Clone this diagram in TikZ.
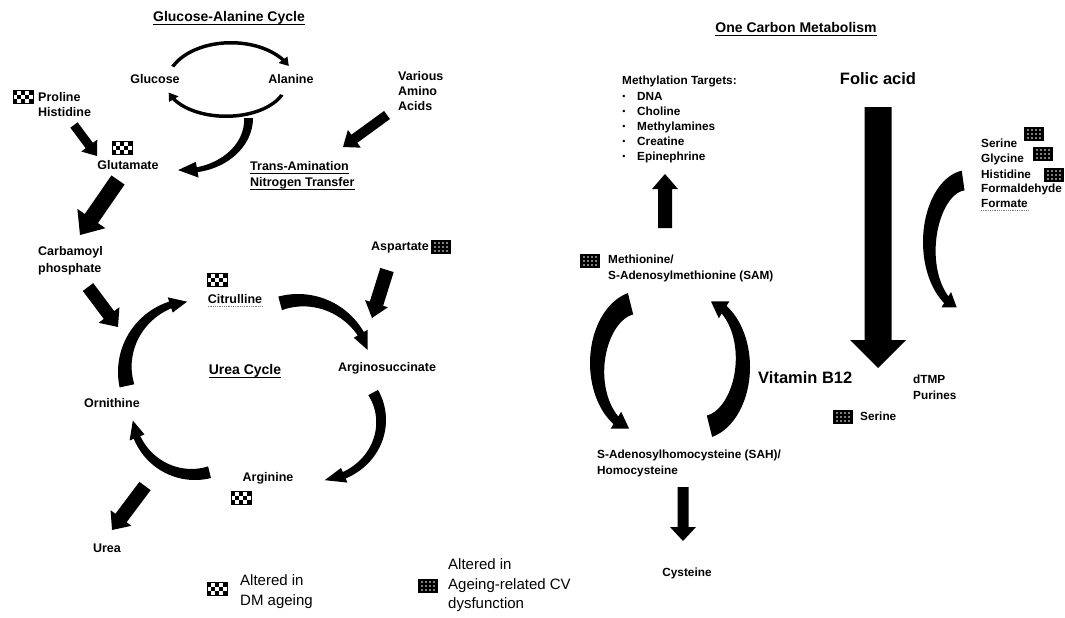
\documentclass[tikz,border=0pt]{standalone}
\usepackage{fontspec}
\setmainfont{Liberation Sans}
\usetikzlibrary{calc}
\newcommand\fsS{\fontsize{12.5}{14}\selectfont\bfseries}
\newcommand\fsR{\fontsize{11.8}{13}\selectfont\bfseries}
\newcommand\fsT{\fontsize{14}{16}\selectfont\bfseries}
\newcommand\fsB{\fontsize{16.5}{19}\selectfont\bfseries}
\newcommand\fsL{\fontsize{15}{17}\selectfont}
\tikzset{
  lb/.style={font=\fsS, inner sep=0pt},
  rb/.style={font=\fsR, inner sep=0pt},
  tt/.style={font=\fsT, inner sep=0pt},
  bg/.style={font=\fsB, inner sep=0pt},
  lg/.style={font=\fsL, inner sep=0pt},
  ul/.style={line width=1pt},
  sp/.style={densely dotted, line width=0.8pt, gray},
  chk/.pic={
    \fill[white] (-10,-6.5) rectangle (10,6.5);
    \foreach \i/\j in {0/0,2/0,4/0,1/1,3/1,0/2,2/2,4/2}
      \fill (-10+4*\i,-6.5+4.333*\j) rectangle ++(4,4.333);
    \draw[line width=0.8pt] (-10,-6.5) rectangle (10,6.5);
  },
  drk/.pic={
    \fill (-10,-7) rectangle (10,7);
    \foreach \i in {0,...,3} \foreach \j in {0,1,2}
      \fill[white] (-6+4*\i,-4+4*\j) circle (0.9);
  }
}
% straight block arrow: start, end, half shaft, half head, head length
\newcommand\barrow[5]{%
  \coordinate (bah) at ($(#2)!#5!(#1)$);
  \fill ($(#1)!#3!90:(#2)$) -- ($(bah)!#3!-90:(#1)$) -- ($(bah)!#4!-90:(#1)$) -- (#2)
    -- ($(bah)!#4!90:(#1)$) -- ($(bah)!#3!90:(#1)$) -- ($(#1)!#3!-90:(#2)$) -- cycle;}
% curved tapered arrow: cx, cy, Rx, Ry, a0 (tail), a1 (head base), w0, w1, head half width; tip angle in \tipa
\newcommand\carrow[9]{%
  \fill plot[domain=#5:#6,samples=40,variable=\t] ({#1+(#3)*cos(\t)},{#2+(#4)*sin(\t)})
    -- ({#1+(#3-(#8)/2+(#9))*cos(#6)},{#2+(#4-(#8)/2+(#9))*sin(#6)})
    -- ({#1+(#3-(#8)/2)*cos(\tipa)},{#2+(#4-(#8)/2)*sin(\tipa)})
    -- ({#1+(#3-(#8)/2-(#9))*cos(#6)},{#2+(#4-(#8)/2-(#9))*sin(#6)})
    -- plot[domain=#6:#5,samples=40,variable=\t]
      ({#1+(#3-(#7)-((#8)-(#7))*(\t-(#5))/((#6)-(#5)))*cos(\t)},
       {#2+(#4-(#7)-((#8)-(#7))*(\t-(#5))/((#6)-(#5)))*sin(\t)})
    -- cycle;}
\newcommand\ulnode[2][ul]{\draw[#1] ($(#2.base west)+(0,2.5)$) -- ($(#2.base east)+(0,2.5)$);}
\begin{document}
\begin{tikzpicture}[x=1pt,y=-1pt]
\useasboundingbox (0,0) rectangle (1065,618);
\fill[white] (0,0) rectangle (1065,618);

% ---------- Glucose-Alanine cycle ----------
\node[tt,anchor=mid] (gac) at (229,19) {Glucose-Alanine Cycle}; \ulnode{gac}
\node[lb,anchor=mid] (glc) at (155,81) {Glucose};
\node[lb,anchor=mid] (ala) at (291,81) {Alanine};
\def\tipa{-26}\carrow{231}{84}{66}{43}{-155}{-36}{3.5}{3.5}{5.5}
\def\tipa{162}\carrow{226}{82}{62}{36}{22}{150}{3.5}{3.5}{5.5}
\def\tipa{97}\carrow{186}{118}{67}{55}{0}{80}{9}{5}{8}

\node[lb,anchor=mid west] (va1) at (398,78) {Various};
\node[lb,anchor=mid west] (va2) at (398,93) {Amino};
\node[lb,anchor=mid west] (va3) at (398,108) {Acids};
\coordinate (v0) at (387,115); \coordinate (v1) at (343,147);
\barrow{v0}{v1}{5pt}{11pt}{14pt}
\node[lb,anchor=mid west] (ta1) at (250,168) {Trans-Amination}; \ulnode{ta1}
\node[lb,anchor=mid west] (ta2) at (250,184) {Nitrogen Transfer}; \ulnode{ta2}

\pic at (23,97) {chk};
\node[lb,anchor=mid west] (pro) at (38,99) {Proline};
\node[lb,anchor=mid west] (his) at (38,114) {Histidine};
\coordinate (p0) at (74,125); \coordinate (p1) at (97,156);
\barrow{p0}{p1}{4.5pt}{10pt}{13pt}
\pic at (122,148) {chk};
\node[lb,anchor=mid] (glu) at (128,167) {Glutamate};
\coordinate (g0) at (118,180); \coordinate (g1) at (80,235);
\barrow{g0}{g1}{8pt}{17pt}{20pt}

% ---------- Urea cycle ----------
\node[lb,anchor=mid west] (cb1) at (38,253) {Carbamoyl};
\node[lb,anchor=mid west] (cb2) at (38,270) {phosphate};
\coordinate (c0) at (88,287); \coordinate (c1) at (118,327);
\barrow{c0}{c1}{6.5pt}{13pt}{15pt}
\node[lb,anchor=mid west] (asp) at (371,248) {Aspartate};
\pic at (441,247) {drk};
\coordinate (s0) at (387,270); \coordinate (s1) at (372,318);
\barrow{s0}{s1}{7pt}{12pt}{15pt}
\pic at (217,280) {chk};
\node[lb,anchor=mid] (cit) at (235,301) {Citrulline}; \ulnode[sp]{cit}
\node[tt,anchor=mid] (uc) at (245,372) {Urea Cycle}; \ulnode{uc}
\node[lb,anchor=mid] (ars) at (387,369) {Arginosuccinate};
\node[lb,anchor=mid] (orn) at (112,405) {Ornithine};
\node[lb,anchor=mid] (arg) at (268,479) {Arginine};
\pic at (241,498) {chk};
\coordinate (u0) at (145,486); \coordinate (u1) at (112,530);
\barrow{u0}{u1}{7pt}{13pt}{15pt}
\node[lb,anchor=mid] (ure) at (107,550) {Urea};
\def\tipa{266}\carrow{192}{372}{74}{74}{168}{252}{15}{7}{8}
\def\tipa{-16}\carrow{298}{370}{76}{76}{-105}{-30}{14}{7}{8}
\def\tipa{84}\carrow{318}{420}{68}{64}{-28}{66}{11}{7}{8}
\def\tipa{174}\carrow{195}{414}{66}{66}{76}{158}{12}{7}{8}

% ---------- Legend ----------
\pic at (217,589) {chk};
\node[lg,anchor=mid west] (l1a) at (240,583) {Altered in};
\node[lg,anchor=mid west] (l1b) at (240,603) {DM ageing};
\pic at (428,586) {drk};
\node[lg,anchor=mid west] (l2a) at (448,567) {Altered in};
\node[lg,anchor=mid west] (l2b) at (448,587) {Ageing-related CV};
\node[lg,anchor=mid west] (l2c) at (448,606) {dysfunction};

% ---------- One carbon metabolism ----------
\node[tt,anchor=mid] (ocm) at (796,30) {One Carbon Metabolism}; \ulnode{ocm}
\node[rb,anchor=mid west] (mt) at (622,82) {Methylation Targets:};
\foreach \n/\t/\yy in {1/DNA/97,2/Choline/112,3/Methylamines/127,4/Creatine/142,5/Epinephrine/157}{
  \node[rb,anchor=mid,font=\fontsize{9}{10}\selectfont] (bu\n) at (624,\yy) {\textbullet};
  \node[rb,anchor=mid west] (mt\n) at (637,\yy+1) {\t};
}
\coordinate (m0) at (665,228); \coordinate (m1) at (665,174);
\barrow{m0}{m1}{7pt}{13pt}{15pt}
\node[bg,anchor=mid] (fol) at (878,82) {Folic acid};
\coordinate (f0) at (878,107); \coordinate (f1) at (878,368);
\barrow{f0}{f1}{13.5pt}{28pt}{28pt}

\node[rb,anchor=mid west] (rs1) at (981,145) {Serine};
\node[rb,anchor=mid west] (rs2) at (981,160) {Glycine};
\node[rb,anchor=mid west] (rs3) at (981,176) {Histidine};
\node[rb,anchor=mid west] (rs4) at (981,190) {Formaldehyde};
\node[rb,anchor=mid west] (rs5) at (981,205) {Formate}; \ulnode[sp]{rs5}
\pic at (1034,134) {drk};
\pic at (1043,154) {drk};
\pic at (1054,175) {drk};
\def\tipa{106}\carrow{968}{242}{45}{72}{262}{122}{20}{8}{9}

\pic at (590,261) {drk};
\node[rb,anchor=mid west] (met1) at (608,261) {Methionine/};
\node[rb,anchor=mid west] (met2) at (608,277) {S-Adenosylmethionine (SAM)};
\def\tipa{104}\carrow{640}{363}{50}{72}{256}{122}{22}{9}{10}
\def\tipa{-76}\carrow{700}{367}{50}{72}{76}{-58}{22}{9}{10}
\node[bg,anchor=mid west] (b12) at (758,381) {Vitamin B12};
\node[rb,anchor=mid west] (dtmp) at (913,381) {dTMP};
\node[rb,anchor=mid west] (pur) at (913,397) {Purines};
\pic at (843,417) {drk};
\node[rb,anchor=mid west] (ser) at (860,418) {Serine};
\node[rb,anchor=mid west] (sah1) at (597,456) {S-Adenosylhomocysteine (SAH)/};
\node[rb,anchor=mid west] (sah2) at (597,472) {Homocysteine};
\coordinate (h0) at (683,487); \coordinate (h1) at (683,541);
\barrow{h0}{h1}{5.5pt}{13pt}{14pt}
\node[rb,anchor=mid] (cys) at (687,574) {Cysteine};
\end{tikzpicture}
\end{document}
